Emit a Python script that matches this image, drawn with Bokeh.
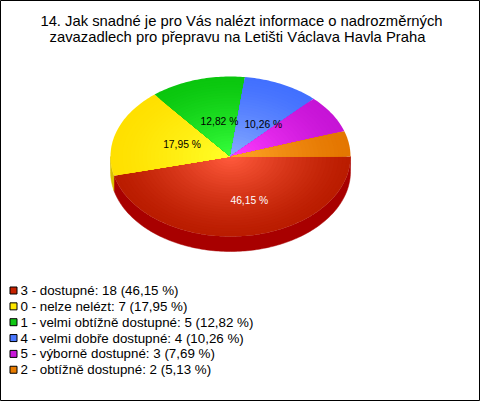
import math
from bokeh.plotting import figure
from bokeh.models import Range1d
from bokeh.core.properties import value
from bokeh.embed import file_html
from bokeh.resources import INLINE

title_lines = ["14. Jak snadné je pro Vás nalézt informace o nadrozměrných",
               "zavazadlech pro přepravu na Letišti Václava Havla Praha"]
categories = ["3 - dostupné", "0 - nelze nelézt", "1 - velmi obtížně dostupné",
              "4 - velmi dobře dostupné", "5 - výborně dostupné", "2 - obtížně dostupné"]
counts = [18, 7, 5, 4, 3, 2]
percent_labels = ["46,15 %", "17,95 %", "12,82 %", "10,26 %", "7,69 %", "5,13 %"]

edge_colors = [(186, 28, 0), (255, 224, 0), (10, 198, 14), (66, 112, 255), (198, 20, 214), (228, 118, 0)]
center_colors = [(255, 90, 60), (255, 255, 40), (54, 255, 60), (135, 170, 255), (255, 60, 255), (255, 165, 40)]
side_colors = ["#a80000", "#d8c000", "#0a9a0c", "#3050c0", "#9010a0", "#b05c00"]
swatch_colors = ["#c62200", "#ffe800", "#10c814", "#4a78ff", "#c818d8", "#e87c00"]
label_colors = ["white", "black", "black", "black"]
label_dx = [11, 13, 7, 5]
label_dy = [1, 2, 6, 7]

W, H = 480, 401
p = figure(width=W, height=H, output_backend="svg", toolbar_location=None,
           x_range=Range1d(0, W), y_range=Range1d(H, 0),
           min_border=0, background_fill_color="white", border_fill_color="white")
p.axis.visible = False
p.grid.visible = False
p.outline_line_color = "black"
p.outline_line_width = 1

CX, CY, RX, RY, DEPTH = 230, 156, 120, 80, 15
total = sum(counts)
starts, ends, acc = [], [], 0
for c in counts:
    starts.append(acc / total * 2 * math.pi)
    acc += c
    ends.append(acc / total * 2 * math.pi)

def arc(a0, a1, k=1.0, dy=0.0):
    n = max(2, int((a1 - a0) / 0.02))
    xs = [CX + k * RX * math.cos(a0 + (a1 - a0) * i / n) for i in range(n + 1)]
    ys = [CY + dy + k * RY * math.sin(a0 + (a1 - a0) * i / n) for i in range(n + 1)]
    return xs, ys

# extruded side: visible only for angles in the lower half
for a0, a1, col in zip(starts, ends, side_colors):
    lo, hi = max(a0, 0.0), min(a1, math.pi)
    if hi > lo:
        xs, ys = arc(lo, hi)
        bx, by = arc(lo, hi, dy=DEPTH)
        p.patch(xs + bx[::-1], ys + by[::-1], fill_color=col, line_color=col, line_width=0.5)

# top face: each slice shaded from the rim to the centre
LAYERS = 30
for a0, a1, ec, cc in zip(starts, ends, edge_colors, center_colors):
    for j in range(LAYERS):
        t = j / (LAYERS - 1)
        k = 1 - t * 0.97
        s = t ** 1.3
        col = "#%02x%02x%02x" % tuple(round(e + (c - e) * s) for e, c in zip(ec, cc))
        xs, ys = arc(a0, a1, k=k)
        p.patch([CX] + xs, [CY] + ys, fill_color=col, line_color=None)

# slice labels
for i, txt in enumerate(percent_labels[:4]):
    m = (starts[i] + ends[i]) / 2
    p.text([CX + 0.54 * RX * math.cos(m) + label_dx[i]], [CY + 0.54 * RY * math.sin(m) + label_dy[i]],
           text=[txt], text_font=value("Liberation Sans"), text_font_size="10.3px",
           text_color=label_colors[i], text_align="center", text_baseline="middle")

# title
for txt, x, y in zip(title_lines, [241, 237], [20, 36]):
    p.text([x], [y], text=[txt], text_font=value("Liberation Sans"), text_font_size="14.8px",
           text_color="black", text_align="center", text_baseline="middle")

# legend
for i, (cat, n, pct, col) in enumerate(zip(categories, counts, percent_labels, swatch_colors)):
    y = 290 + i * 15.85
    p.rect([13], [y], width=7, height=7, fill_color=col, line_color="black", line_width=1)
    p.text([20], [y], text=[f"{cat}: {n} ({pct})"], text_font=value("Liberation Sans"),
           text_font_size="13.35px", text_color="black", text_align="left", text_baseline="middle")

open("out.html", "w").write(file_html(p, INLINE))
